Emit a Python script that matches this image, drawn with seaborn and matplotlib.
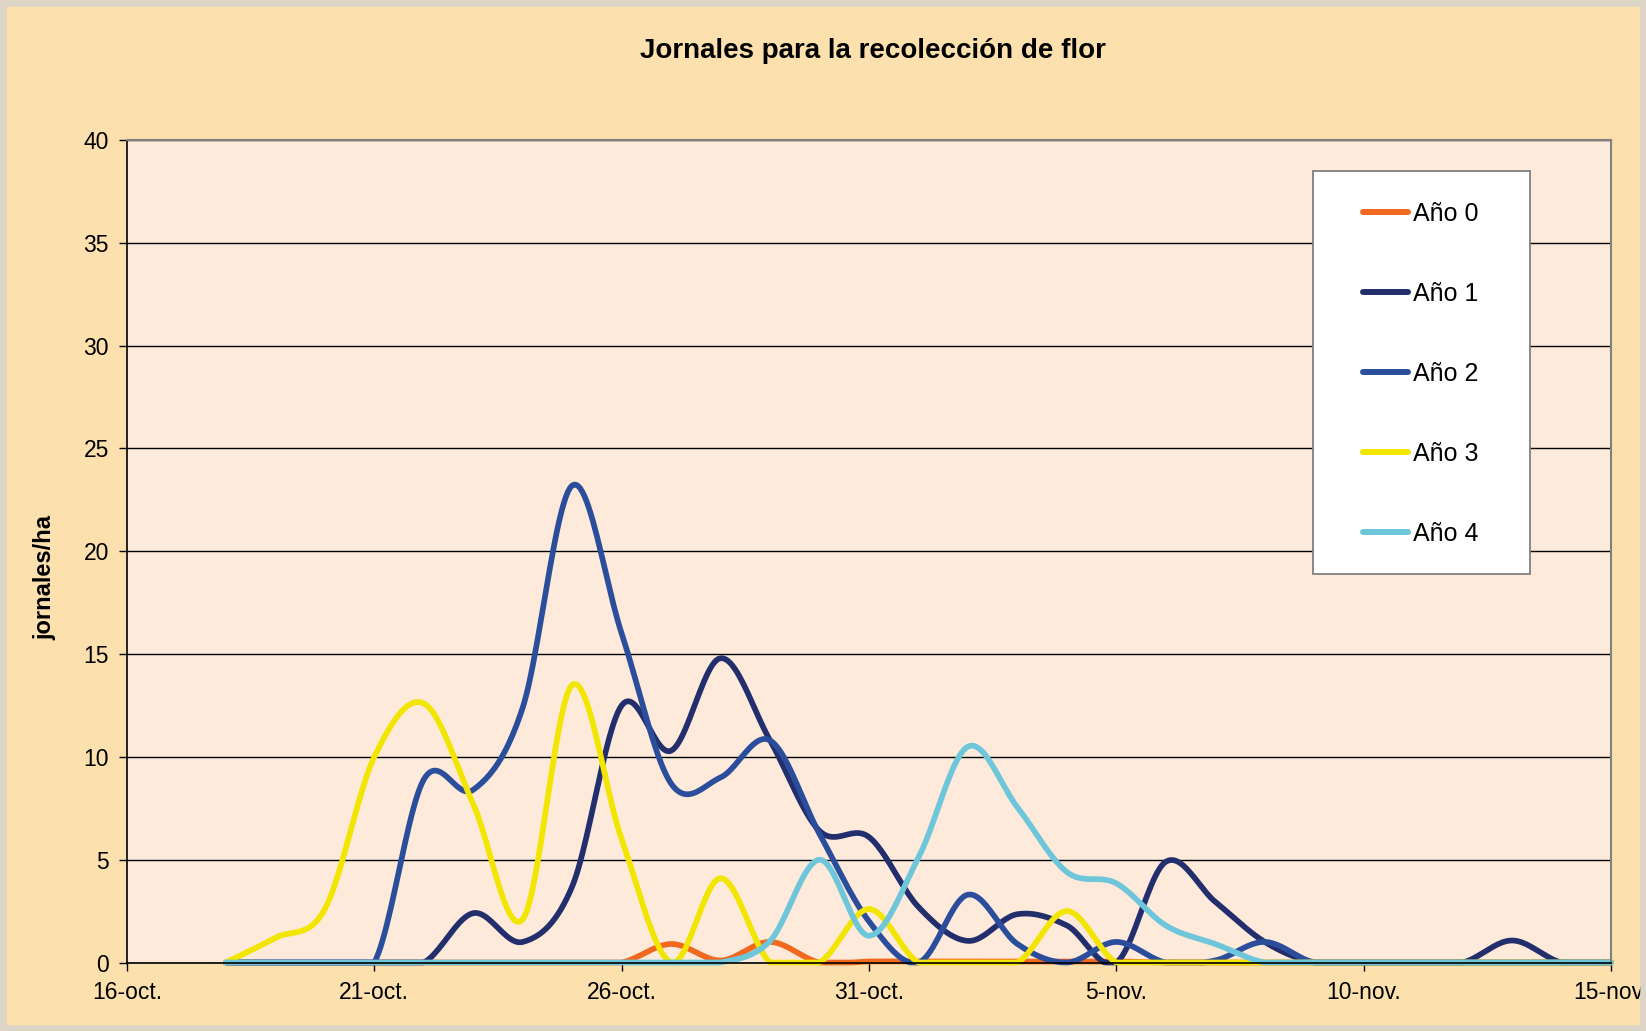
import numpy as np
import pandas as pd
import matplotlib
matplotlib.use("Agg")
import matplotlib.pyplot as plt
import seaborn as sns
from matplotlib.patches import Rectangle
from matplotlib.lines import Line2D

# ---------------- data (daily, 18-oct .. 15-nov) ----------------
day_offset = list(range(2, 31))  # days after 16-oct
ano0 = [0, 0, 0, 0, 0, 0, 0, 0, 0, 0.9, 0.1, 1.0, 0, 0.05, 0.05, 0.05, 0.05, 0.05, 0.05,
        0, 0, 0, 0, 0, 0, 0, 0, 0, 0]
ano1 = [0, 0, 0, 0, 0, 2.4, 1.0, 3.7, 12.5, 10.3, 14.8, 10.8, 6.4, 6.1, 2.7, 1.05, 2.35, 1.8,
        0, 4.9, 2.95, 1.0, 0, 0, 0, 0, 1.07, 0, 0]
ano2 = [0, 0, 0, 0, 8.9, 8.4, 12.4, 23.2, 16.0, 8.7, 9.0, 10.8, 6.25, 2.0, 0, 3.3, 0.9, 0,
        1.0, 0, 0.1, 1.0, 0, 0, 0, 0, 0, 0, 0]
ano3 = [0, 1.2, 2.6, 10.0, 12.6, 7.7, 2.1, 13.5, 6.0, 0, 4.1, 0, 0, 2.6, 0, 0, 0, 2.5,
        0, 0, 0, 0, 0, 0, 0, 0, 0, 0, 0]
ano4 = [0, 0, 0, 0, 0, 0, 0, 0, 0, 0, 0, 1.05, 5.0, 1.3, 5.1, 10.5, 7.55, 4.4, 3.85,
        1.8, 0.9, 0, 0, 0, 0, 0, 0, 0, 0]
series_names = ["Año 0", "Año 1", "Año 2", "Año 3", "Año 4"]
series_vals = [ano0, ano1, ano2, ano3, ano4]
colors = ["#F0691F", "#232E6C", "#2B4E9C", "#F2E500", "#6EC6DA"]
tick_days = [0, 5, 10, 15, 20, 25, 30]
tick_labels = ["16-oct.", "21-oct.", "26-oct.", "31-oct.", "5-nov.", "10-nov.", "15-nov."]


def smooth(x, y, n=24):
    """Excel-style smoothed line (Bezier through the points), kept at or above 0."""
    P = np.column_stack([x, y]).astype(float)
    out = []
    m = len(P)
    t = np.linspace(0, 1, n, endpoint=False)[:, None]
    for i in range(m - 1):
        p0 = P[i - 1] if i > 0 else P[i]
        p1, p2 = P[i], P[i + 1]
        p3 = P[i + 2] if i + 2 < m else P[i + 1]
        c1 = p1 + (p2 - p0) / 6.0
        c2 = p2 - (p3 - p1) / 6.0
        b = ((1 - t) ** 3) * p1 + 3 * ((1 - t) ** 2) * t * c1 + 3 * (1 - t) * t ** 2 * c2 + t ** 3 * p2
        out.append(b)
    out.append(P[-1][None, :])
    out = np.vstack(out)
    return out[:, 0], np.maximum(out[:, 1], 0)


frames = []
for name, vals in zip(series_names, series_vals):
    xs, ys = smooth(day_offset, vals)
    frames.append(pd.DataFrame({"day": xs, "value": ys, "serie": name}))
df = pd.concat(frames, ignore_index=True)

# ---------------- figure ----------------
sns.set_theme(style="white")
plt.rcParams["font.family"] = ["Liberation Sans", "DejaVu Sans"]
plt.rcParams["text.color"] = "black"
plt.rcParams["axes.labelcolor"] = "black"
plt.rcParams["xtick.color"] = "black"
plt.rcParams["ytick.color"] = "black"

W, H = 1646, 1031
fig = plt.figure(figsize=(W / 100, H / 100), dpi=100)
fig.patch.set_facecolor("#FCE0AD")

ax = fig.add_axes([127 / W, 1 - 962.5 / H, (1611 - 127) / W, (962.5 - 140) / H])
ax.set_facecolor("#FDEADB")

sns.lineplot(data=df, x="day", y="value", hue="serie", palette=dict(zip(series_names, colors)),
             estimator=None, sort=False, linewidth=4.1, legend=False, ax=ax)
for ln in ax.lines:
    ln.set_clip_on(False)
    ln.set_solid_capstyle("round")
    ln.set_solid_joinstyle("round")

ax.set_xlim(0, 30)
ax.set_ylim(0, 40)
ax.set_yticks(range(0, 41, 5))
ax.set_xticks(tick_days)
ax.set_xticklabels(tick_labels)
ax.yaxis.grid(True, color="black", linewidth=1.0)
ax.set_axisbelow(True)
ax.tick_params(axis="both", which="major", direction="out", length=6, width=1,
               color="black", labelsize=16.5, labelcolor="black", left=True, bottom=True)
ax.tick_params(axis="x", pad=7)
ax.tick_params(axis="y", pad=7)
for s in ["top", "right"]:
    ax.spines[s].set_color("#808080")
    ax.spines[s].set_linewidth(1.5)
for s in ["left", "bottom"]:
    ax.spines[s].set_color("black")
    ax.spines[s].set_linewidth(1.2)
ax.set_xlabel("")
ax.set_ylabel("jornales/ha", fontsize=17, fontweight="bold", color="black")
ax.yaxis.set_label_coords(-0.0475, 0.468)

fig.text(832 / 1568, 1 - 51 / H, "Jornales para la recolección de flor", ha="center", va="center",
         fontsize=20, fontweight="bold", color="black")

# legend box
rect = Rectangle((1313 / W, 1 - 574 / H), 217 / W, 403 / H, transform=fig.transFigure,
                 facecolor="white", edgecolor="#808080", linewidth=1.3, zorder=5)
fig.add_artist(rect)
handles = [Line2D([0], [0], color=c, linewidth=4.3, solid_capstyle="round") for c in colors]
leg = fig.legend(handles, series_names, loc="upper left",
                 bbox_to_anchor=(1363 / W, 1 - 202 / H), frameon=False, fontsize=18,
                 handlelength=1.8, handletextpad=0.2, labelspacing=2.24,
                 borderpad=0, borderaxespad=0)
leg.set_zorder(6)
for t in leg.get_texts():
    t.set_color("black")

# textured border
border = Rectangle((0, 0), 1, 1, transform=fig.transFigure, fill=False,
                   edgecolor="#DDD5C6", linewidth=9, zorder=10)
fig.add_artist(border)

fig.savefig("out.png", dpi=100, facecolor=fig.get_facecolor())
